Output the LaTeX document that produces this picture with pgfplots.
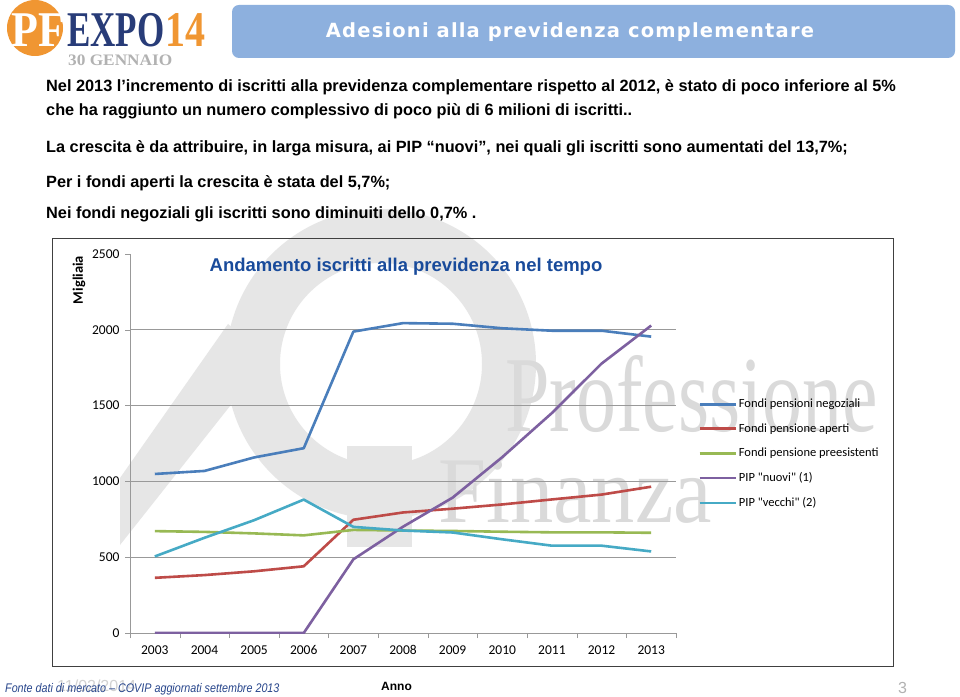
\documentclass[border=0pt]{standalone}
\usepackage{fontspec}
\setmainfont{Liberation Sans}
\newfontfamily\carlito{Carlito}
\newfontfamily\lserif{Liberation Serif}
\newfontfamily\titlefont[LetterSpace=6]{DejaVu Sans}
\usepackage{pgfplots}
\pgfplotsset{compat=1.18}
\definecolor{cblue}{RGB}{74,126,187}
\definecolor{cred}{RGB}{190,75,72}
\definecolor{cgreen}{RGB}{152,185,84}
\definecolor{cpurple}{RGB}{125,96,160}
\definecolor{ccyan}{RGB}{70,170,197}
\definecolor{titleblue}{RGB}{141,176,222}
\definecolor{pforange}{RGB}{240,150,50}
\definecolor{expoblue}{RGB}{40,60,120}
\definecolor{charttitle}{RGB}{25,75,155}
\definecolor{footblue}{RGB}{40,70,140}
\definecolor{wm}{RGB}{230,230,230}
\definecolor{wmtext}{RGB}{218,218,218}
\pgfplotstableread{
x y
0 1049
1 1069
2 1158
3 1219
4 1988
5 2044
6 2040
7 2010
8 1994
9 1994
10 1955
}\negoziali
\pgfplotstableread{
x y
0 364
1 382
2 407
3 440
4 747
5 795
6 820
7 848
8 881
9 913
10 965
}\aperti
\pgfplotstableread{
x y
0 672
1 667
2 657
3 644
4 680
5 676
6 673
7 668
8 664
9 664
10 661
}\preesistenti
\pgfplotstableread{
x y
0 0
1 0
2 0
3 0
4 486
5 701
6 893
7 1160
8 1451
9 1777
10 2028
}\nuovi
\pgfplotstableread{
x y
0 505
1 628
2 744
3 880
4 700
5 676
6 663
7 618
8 576
9 576
10 538
}\vecchi
\begin{document}
\begin{tikzpicture}
\fill[white] (0,0) rectangle (960pt,696pt);
\path[use as bounding box] (0,0) rectangle (960pt,696pt);
% watermark
\draw[wm, line width=54pt] (381pt,332pt) circle (128pt);
\fill[wm] (347pt,250pt) rectangle (412pt,149pt);
\fill[wm] (120pt,218pt) -- (228pt,372pt) -- (268pt,338pt) -- (120pt,151pt) -- cycle;
\node[anchor=base west, inner sep=0pt, text=wmtext] at (505pt,264pt)
  {\scalebox{0.74}[1]{\lserif\fontsize{108}{108}\selectfont Professione}};
\node[anchor=base west, inner sep=0pt, text=wmtext] at (438pt,173pt)
  {\scalebox{0.92}[1]{\lserif\fontsize{94}{94}\selectfont Finanza}};
% logo
\fill[pforange] (35pt,668pt) circle (28pt);
\node[anchor=base west, text=white, inner sep=0pt] at (11pt,649pt) {\scalebox{0.88}[1]{\lserif\bfseries\fontsize{50}{50}\selectfont PF}};
\node[anchor=base west, inner sep=0pt, text=expoblue] at (67pt,649pt) {\scalebox{0.7}[1]{\lserif\bfseries\fontsize{50}{50}\selectfont EXPO}};
\node[anchor=base west, inner sep=0pt, text=pforange] at (165pt,649pt) {\scalebox{0.8}[1]{\lserif\bfseries\fontsize{50}{50}\selectfont 14}};
\node[anchor=base west, inner sep=0pt, text=gray!60] at (68pt,630pt) {\scalebox{1.08}[1]{\lserif\bfseries\fontsize{16}{16}\selectfont 30 GENNAIO}};
% title box
\fill[titleblue, rounded corners=7pt] (232pt,638pt) rectangle (955pt,691pt);
\node[text=white] at (570pt,664pt) {\titlefont\bfseries\fontsize{19.5}{20}\selectfont Adesioni alla previdenza complementare};
% text
\begin{scope}[every node/.style={anchor=base west, inner sep=0pt, font=\bfseries\fontsize{16.3}{18}\selectfont}]
\node at (46pt,604pt) {Nel 2013 l’incremento di iscritti alla previdenza complementare rispetto al 2012, è stato di poco inferiore al 5\%};
\node at (46pt,580pt) {che ha raggiunto un numero complessivo di poco più di 6 milioni di  iscritti..};
\node at (46pt,543pt) {La crescita è da attribuire, in larga misura, ai PIP “nuovi”, nei quali gli iscritti sono aumentati del 13,7\%;};
\node at (46pt,508pt) {Per i fondi aperti la crescita è stata del 5,7\%;};
\node at (46pt,477pt) {Nei fondi negoziali gli iscritti sono diminuiti dello 0,7\% .};
\end{scope}
% chart frame
\draw[line width=1pt, black!75] (52pt,30pt) rectangle (893pt,457pt);
\node[rotate=90] at (79pt,416pt) {\carlito\bfseries\fontsize{14.5}{15}\selectfont Migliaia};
\node[text=charttitle] at (406pt,429pt) {\bfseries\fontsize{18.5}{19}\selectfont Andamento iscritti alla previdenza nel tempo};
\begin{axis}[
  at={(130pt,63pt)}, anchor=south west,
  scale only axis, width=546pt, height=379pt,
  xmin=-0.5, xmax=10.5, ymin=0, ymax=2500,
  axis x line=bottom, axis y line=left,
  axis line style={-, black!40},
  xtick={0,...,10},
  xticklabels={2003,2004,2005,2006,2007,2008,2009,2010,2011,2012,2013},
  minor xtick={-0.5,0.5,...,10.5},
  ytick={0,500,...,2500},
  yticklabels={0,500,1000,1500,2000,2500},
  tick align=outside,
  major tick length=5pt, minor tick length=5pt,
  major x tick style={draw=none},
  minor x tick style={black!40},
  y tick style={black!40},
  tick label style={font=\carlito\fontsize{13.5}{15}\selectfont},
  xticklabel style={text height=9.5pt, text depth=0pt, yshift=-3pt},
  yticklabel style={xshift=-2pt},
  /pgf/number format/assume math mode=true,
  every axis plot/.append style={line width=2.6pt, line join=round},
  legend style={draw=none, fill=none, at={(1.035,0.628)}, anchor=north west,
    font=\carlito\fontsize{12.5}{14}\selectfont, row sep=10.3pt},
  legend cell align=left,
  legend image code/.code={\draw[#1, line width=2.6pt] (0pt,0pt) -- (36pt,0pt);},
]
\pgfplotsinvokeforeach{500,1000,1500,2000}{
  \draw[black!40, line width=0.8pt] (axis cs:-0.5,#1) -- (axis cs:10.5,#1);
}
\addplot[cblue] table {\negoziali};
\addlegendentry{Fondi pensioni negoziali}
\addplot[cred] table {\aperti};
\addlegendentry{Fondi pensione aperti}
\addplot[cgreen] table {\preesistenti};
\addlegendentry{Fondi pensione preesistenti}
\addplot[cpurple] table {\nuovi};
\addlegendentry{PIP "nuovi" (1)}
\addplot[ccyan] table {\vecchi};
\addlegendentry{PIP "vecchi" (2)}
\end{axis}
% footer
\node[anchor=base west, inner sep=0pt, text=gray!35] at (57pt,5pt) {\fontsize{16}{16}\selectfont 11/02/2014};
\node[anchor=base west, inner sep=0pt, text=footblue] at (5pt,4pt) {\scalebox{0.86}[1]{\itshape\fontsize{12.5}{13}\selectfont Fonte dati di mercato -- COVIP aggiornati settembre 2013}};
\node[anchor=base west, inner sep=0pt] at (381pt,6pt) {\bfseries\fontsize{12}{12}\selectfont Anno};
\node[anchor=base west, inner sep=0pt, text=gray!60] at (898pt,3pt) {\fontsize{16}{16}\selectfont 3};
\end{tikzpicture}
\end{document}
